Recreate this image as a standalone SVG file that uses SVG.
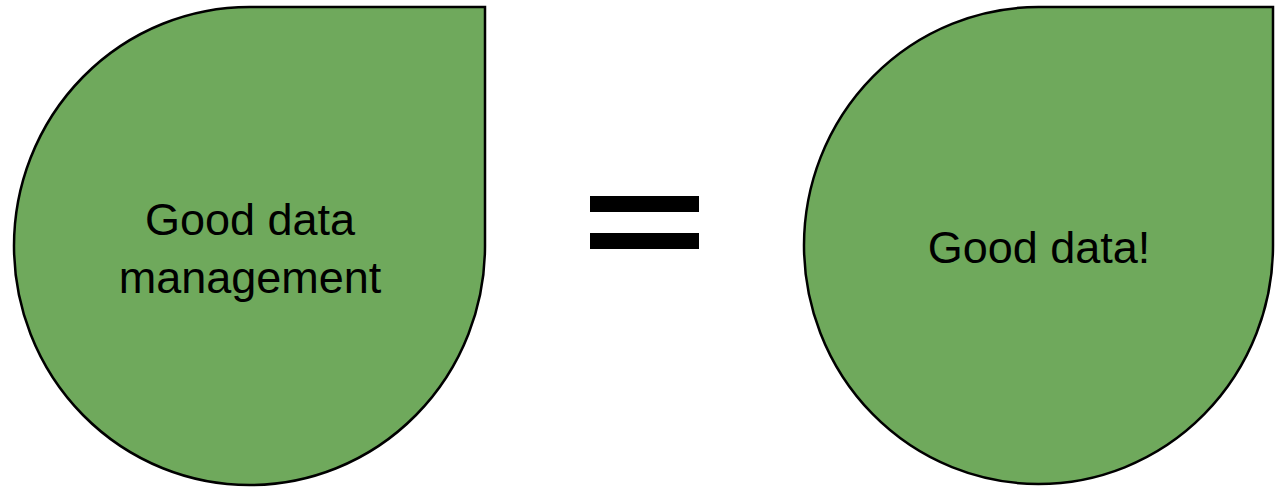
<svg xmlns="http://www.w3.org/2000/svg" width="1286" height="487" viewBox="0 0 1286 487">
<style>
.drop{fill:#6fa95c;stroke:#000;stroke-width:2.5;stroke-linejoin:miter}
.lbl{font-family:"Liberation Sans",Arial,sans-serif;font-size:45px;fill:#000;text-anchor:middle}
.bar{fill:#000}
</style>
<rect width="1286" height="487" fill="#fff"/>
<g id="node-left">
<path class="drop" d="M249.5 7 L485 7 L485 246 A235.5 239 0 1 1 249.5 7 Z"/>
<text class="lbl" x="250" y="235">Good data</text>
<text class="lbl" x="250" y="293">management</text>
</g>
<g id="equals">
<rect class="bar" x="590" y="196" width="109" height="16"/>
<rect class="bar" x="590" y="233" width="109" height="16"/>
</g>
<g id="node-right">
<path class="drop" d="M1039 7 L1273 7 L1273 245.5 A234.5 238.5 0 1 1 1039 7 Z"/>
<text class="lbl" x="1039" y="263">Good data!</text>
</g>
<g id="connectors"/>
</svg>
